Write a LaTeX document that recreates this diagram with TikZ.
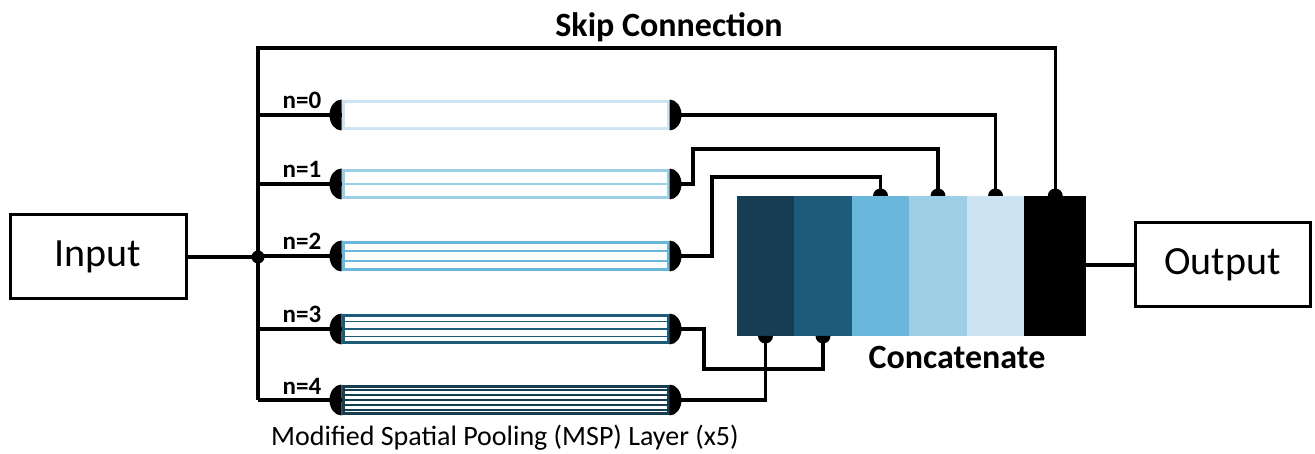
\documentclass[tikz,border=0pt]{standalone}
\usepackage{fontspec}
\setmainfont{Carlito}
\usepackage{xcolor}
\usetikzlibrary{calc,positioning}

\definecolor{blkA}{HTML}{163D51}
\definecolor{blkB}{HTML}{1D5B7A}
\definecolor{blkC}{HTML}{6AB7DC}
\definecolor{blkD}{HTML}{9CCFE6}
\definecolor{blkE}{HTML}{CDE4F2}

\tikzset{
  iobox/.style={draw, line width=3pt, minimum height=84pt, inner sep=0pt,
    font=\fontsize{40}{44}\selectfont},
  tube/.style={draw=#1, line width=3pt, minimum width=325pt, minimum height=27pt, inner sep=0pt},
  seg/.style={fill=#1, minimum width=57.5pt, minimum height=140pt, inner sep=0pt, outer sep=0pt},
  wire/.style={line width=3.2pt},
  nlabel/.style={font=\bfseries\fontsize{25}{28}\selectfont, anchor=base, inner sep=0pt},
  bigtitle/.style={font=\bfseries\fontsize{34}{38}\selectfont, inner sep=0pt},
}

\begin{document}
\begin{tikzpicture}[x=1pt,y=-1pt]
\useasboundingbox (0,0) rectangle (1315,454);

%Input / Output
\node[iobox, minimum width=176pt] (input) at (98,257) {Input};
\node[iobox, minimum width=175pt] (output) at (1222.5,265) {Output};

%Concatenate block
\node[seg=blkA] (c1) at (765.5,266) {};
\node[seg=blkB, right=0pt of c1] (c2) {};
\node[seg=blkC, right=0pt of c2] (c3) {};
\node[seg=blkD, right=0pt of c3] (c4) {};
\node[seg=blkE, right=0pt of c4] (c5) {};
\node[seg=black, minimum width=62pt, right=0pt of c5] (c6) {};

%MSP tubes
\node[tube=blkE] (t0) at (505.5,115) {};
\node[tube=blkD] (t1) at (505.5,184) {};
\node[tube=blkC] (t2) at (505.5,256) {};
\node[tube=blkB] (t3) at (505.5,329) {};
\node[tube=blkA] (t4) at (505.5,400) {};
\foreach \t/\r/\c in {t1/2/blkD, t2/3/blkC, t3/4/blkB, t4/6/blkA}{
  \pgfmathtruncatemacro{\last}{\r-1}
  \foreach \i in {1,...,\last}
    \draw[\c, line width=1.4pt] ($(\t.north west)!\i/\r!(\t.south west)$) -- ($(\t.north east)!\i/\r!(\t.south east)$);
}

%bus and skip connection
\coordinate (bus) at (258,257);
\coordinate (skip) at (258,48);
\coordinate (k1) at (693,149);
\coordinate (k2) at (712,177);
\coordinate (k3) at (704,369);
\draw[wire] (input) -- (bus);
\draw[wire] (c6.north) |- (skip) -- (skip |- t4);
\fill (bus) circle[radius=6.5pt];
\foreach \t in {t0,t1,t2,t3,t4}
  \draw[wire] (\t.west -| bus) -- (\t.west);

%tubes to block
\draw[wire] (t0.east) -| (c5.north);
\draw[wire] (t1.east) -| (k1) -| (c4.north);
\draw[wire] (t2.east) -| (k2) -| (c3.north);
\draw[wire] (t3.east) -| (k3) -| (c2.south);
\draw[wire] (t4.east) -| (c1.south);
\draw[wire] (c6.east |- output) -- (output.west);

%caps
\foreach \t in {t0,t1,t2,t3,t4}{
  \fill ($(\t.west)+(0,-15.5)$) arc[start angle=90, end angle=270, x radius=12pt, y radius=15.5pt] -- cycle;
  \fill ($(\t.east)+(0,-15.5)$) arc[start angle=90, end angle=-90, x radius=12pt, y radius=15.5pt] -- cycle;
}
\foreach \c in {c3,c4,c5,c6}
  \fill ($(\c.north)+(-7.5,0)$) arc[start angle=180, end angle=0, radius=7.5pt] -- cycle;
\foreach \c in {c1,c2}
  \fill ($(\c.south)+(-7.5,0)$) arc[start angle=180, end angle=360, radius=7.5pt] -- cycle;

% Text Node
\node[nlabel] (l0) at (302,109) {n=0};
\node[nlabel] (l1) at (302,178) {n=1};
\node[nlabel] (l2) at (302,250) {n=2};
\node[nlabel] (l3) at (302,323) {n=3};
\node[nlabel] (l4) at (302,394) {n=4};
\node[bigtitle] (skiplabel) at (669,27) {Skip Connection};
\node[bigtitle] (catlabel) at (957,357) {Concatenate};
\node[font=\fontsize{28}{32}\selectfont, inner sep=0pt] (msplabel) at (505,438) {Modified Spatial Pooling (MSP) Layer (x5)};

\end{tikzpicture}
\end{document}
